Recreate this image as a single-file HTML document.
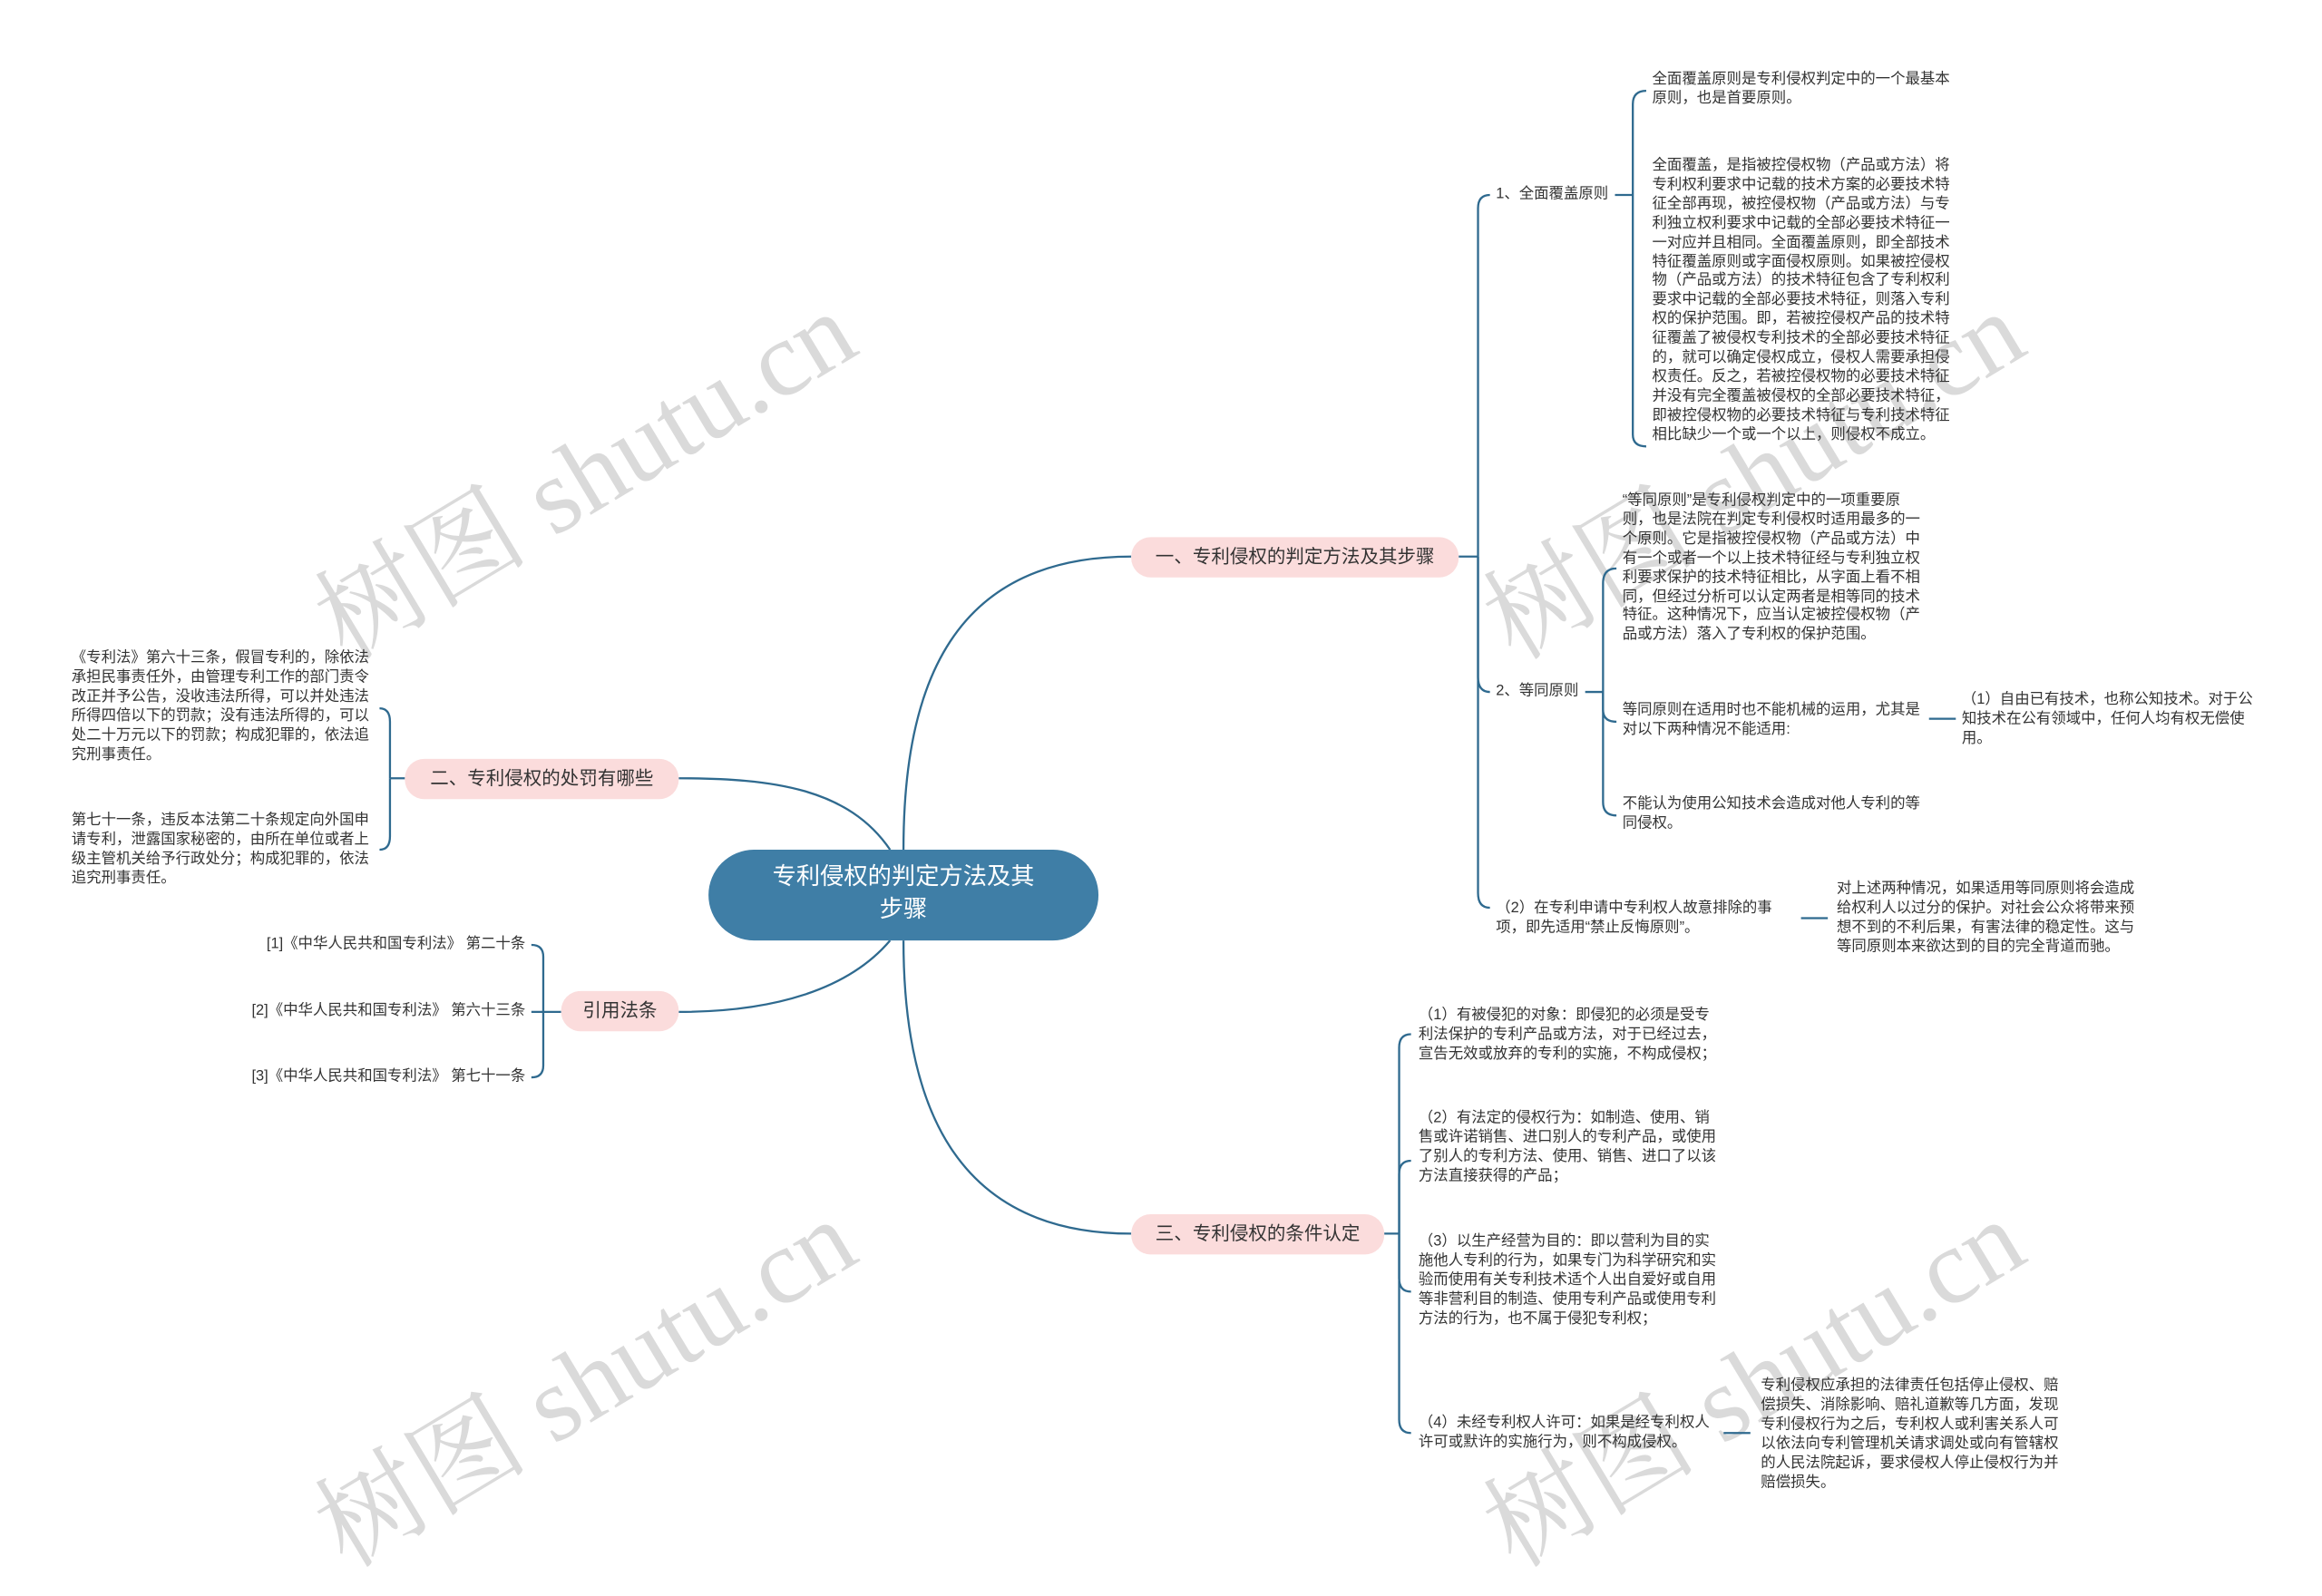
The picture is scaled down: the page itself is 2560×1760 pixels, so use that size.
<!DOCTYPE html>
<html><head><meta charset="utf-8">
<style>
html,body{margin:0;padding:0;background:#fff;}
body{width:2560px;height:1715px;overflow:hidden;position:relative;}
#c{position:absolute;left:0;top:0;width:1560px;height:1045px;transform:scale(1.641);transform-origin:0 0;font-family:"Liberation Sans","Noto Sans CJK SC",sans-serif;color:#333;}
.t{position:absolute;font-size:10px;line-height:12.9px;width:202px;word-break:break-all;}
.n{position:absolute;background:#fbdcdc;border-radius:13px;height:27px;line-height:27px;text-align:center;font-size:12.5px;color:#333;}
.wm{position:absolute;font-size:72px;color:#dadada;transform:rotate(-31deg);white-space:nowrap;font-family:"Liberation Serif","Noto Serif CJK SC",serif;}
svg{position:absolute;left:0;top:0;}
</style></head><body><div id="c">
<div class="wm" style="left:188px;top:262px;">树图 shutu.cn</div>
<div class="wm" style="left:973px;top:262px;">树图 shutu.cn</div>
<div class="wm" style="left:188px;top:872px;">树图 shutu.cn</div>
<div class="wm" style="left:973px;top:872px;">树图 shutu.cn</div>
<svg width="1560" height="1045" fill="none" stroke="#2f6a8f" stroke-width="1.4">
<path d="M607 571 C607 460 640 374 760 374"/>
<path d="M598 571 C570 530 520 523 456 523"/>
<path d="M607 632 C607 740 640 829 760 829"/>
<path d="M598 632 C570 665 520 680 456 680"/>
<path d="M980 374 L993 374"/>
<path d="M993 374 L993 140 Q993 131 1001 131"/>
<path d="M993 374 L993 455 Q993 465 1001 465"/>
<path d="M993 374 L993 600 Q993 610 1001 610"/>
<path d="M1085 131 L1097 131"/>
<path d="M1097 131 L1097 70 Q1097 61 1106 61"/>
<path d="M1097 131 L1097 292 Q1097 300 1106 300"/>
<path d="M1065 465 L1077 465"/>
<path d="M1077 465 L1077 392 Q1077 382 1086 382"/>
<path d="M1077 465 L1077 477 Q1077 485 1086 485"/>
<path d="M1077 465 L1077 539 Q1077 548 1086 548"/>
<path d="M1296 483 L1314 483"/>
<path d="M1210 617 L1228 617"/>
<path d="M272 523 L262 523"/>
<path d="M262 523 L262 485 Q262 476 255 476"/>
<path d="M262 523 L262 562 Q262 571 255 571"/>
<path d="M377 680 L365 680"/>
<path d="M365 680 L365 643 Q365 635 357 635"/>
<path d="M365 680 L357 680"/>
<path d="M365 680 L365 716 Q365 724 357 724"/>
<path d="M930 829 L940 829"/>
<path d="M940 829 L940 704 Q940 695 948 695"/>
<path d="M940 829 L940 789 Q940 780 948 780"/>
<path d="M940 829 L940 859 Q940 868 948 868"/>
<path d="M940 829 L940 954 Q940 963 948 963"/>
<path d="M1158 963 L1176 963"/>
</svg>
<div style="position:absolute;left:476px;top:571px;width:262px;height:61px;background:#3f7ea6;border-radius:31px;color:#fff;font-size:16px;line-height:22px;text-align:center;padding-top:8px;box-sizing:border-box;">专利侵权的判定方法及其<br>步骤</div>
<div class="n" style="left:760px;top:361px;width:220px;">一、专利侵权的判定方法及其步骤</div>
<div class="n" style="left:272px;top:510px;width:184px;">二、专利侵权的处罚有哪些</div>
<div class="n" style="left:377px;top:666px;width:79px;">引用法条</div>
<div class="n" style="left:760px;top:816px;width:170px;">三、专利侵权的条件认定</div>

<div class="t" style="left:1005px;top:125px;width:90px;">1、全面覆盖原则</div>
<div class="t" style="left:1110px;top:48px;">全面覆盖原则是专利侵权判定中的一个最基本原则，也是首要原则。</div>
<div class="t" style="left:1110px;top:106px;">全面覆盖，是指被控侵权物（产品或方法）将专利权利要求中记载的技术方案的必要技术特征全部再现，被控侵权物（产品或方法）与专利独立权利要求中记载的全部必要技术特征一一对应并且相同。全面覆盖原则，即全部技术特征覆盖原则或字面侵权原则。如果被控侵权物（产品或方法）的技术特征包含了专利权利要求中记载的全部必要技术特征，则落入专利权的保护范围。即，若被控侵权产品的技术特征覆盖了被侵权专利技术的全部必要技术特征的，就可以确定侵权成立，侵权人需要承担侵权责任。反之，若被控侵权物的必要技术特征并没有完全覆盖被侵权的全部必要技术特征，即被控侵权物的必要技术特征与专利技术特征相比缺少一个或一个以上，则侵权不成立。</div>
<div class="t" style="left:1005px;top:459px;width:70px;">2、等同原则</div>
<div class="t" style="left:1090px;top:331px;">“等同原则”是专利侵权判定中的一项重要原则，也是法院在判定专利侵权时适用最多的一个原则。它是指被控侵权物（产品或方法）中有一个或者一个以上技术特征经与专利独立权利要求保护的技术特征相比，从字面上看不相同，但经过分析可以认定两者是相等同的技术特征。这种情况下，应当认定被控侵权物（产品或方法）落入了专利权的保护范围。</div>
<div class="t" style="left:1090px;top:472px;">等同原则在适用时也不能机械的运用，尤其是对以下两种情况不能适用:</div>
<div class="t" style="left:1318px;top:465px;">（1）自由已有技术，也称公知技术。对于公知技术在公有领域中，任何人均有权无偿使用。</div>
<div class="t" style="left:1090px;top:535px;">不能认为使用公知技术会造成对他人专利的等同侵权。</div>
<div class="t" style="left:1005px;top:605px;width:200px;">（2）在专利申请中专利权人故意排除的事项，即先适用“禁止反悔原则”。</div>
<div class="t" style="left:1234px;top:592px;">对上述两种情况，如果适用等同原则将会造成给权利人以过分的保护。对社会公众将带来预想不到的不利后果，有害法律的稳定性。这与等同原则本来欲达到的目的完全背道而驰。</div>

<div class="t" style="left:48px;top:437px;">《专利法》第六十三条，假冒专利的，除依法承担民事责任外，由管理专利工作的部门责令改正并予公告，没收违法所得，可以并处违法所得四倍以下的罚款；没有违法所得的，可以处二十万元以下的罚款；构成犯罪的，依法追究刑事责任。</div>
<div class="t" style="left:48px;top:546px;">第七十一条，违反本法第二十条规定向外国申请专利，泄露国家秘密的，由所在单位或者上级主管机关给予行政处分；构成犯罪的，依法追究刑事责任。</div>
<div class="t" style="left:100px;top:629px;width:253px;text-align:right;">[1]《中华人民共和国专利法》 第二十条</div>
<div class="t" style="left:100px;top:674px;width:253px;text-align:right;">[2]《中华人民共和国专利法》 第六十三条</div>
<div class="t" style="left:100px;top:718px;width:253px;text-align:right;">[3]《中华人民共和国专利法》 第七十一条</div>

<div class="t" style="left:953px;top:677px;">（1）有被侵犯的对象：即侵犯的必须是受专利法保护的专利产品或方法，对于已经过去，宣告无效或放弃的专利的实施，不构成侵权；</div>
<div class="t" style="left:953px;top:746px;">（2）有法定的侵权行为：如制造、使用、销售或许诺销售、进口别人的专利产品，或使用了别人的专利方法、使用、销售、进口了以该方法直接获得的产品；</div>
<div class="t" style="left:953px;top:829px;">（3）以生产经营为目的：即以营利为目的实施他人专利的行为，如果专门为科学研究和实验而使用有关专利技术适个人出自爱好或自用等非营利目的制造、使用专利产品或使用专利方法的行为，也不属于侵犯专利权；</div>
<div class="t" style="left:953px;top:951px;width:200px;">（4）未经专利权人许可：如果是经专利权人许可或默许的实施行为，则不构成侵权。</div>
<div class="t" style="left:1183px;top:926px;">专利侵权应承担的法律责任包括停止侵权、赔偿损失、消除影响、赔礼道歉等几方面，发现专利侵权行为之后，专利权人或利害关系人可以依法向专利管理机关请求调处或向有管辖权的人民法院起诉，要求侵权人停止侵权行为并赔偿损失。</div>
</div></body></html>
